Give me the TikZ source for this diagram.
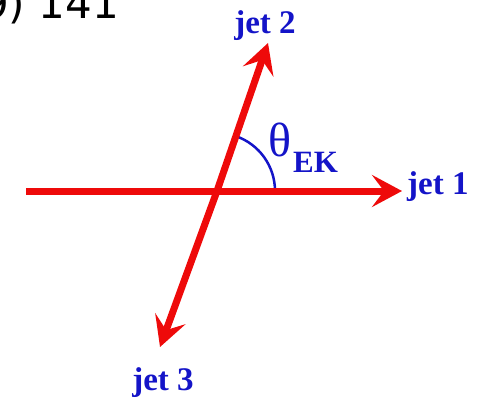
\documentclass[tikz,border=0pt]{standalone}
\usepackage{fontspec}
\setmainfont{Liberation Serif}
\newfontfamily\numfont{DejaVu Sans}
\usetikzlibrary{arrows.meta}
\definecolor{jetred}{RGB}{238,10,10}
\definecolor{lblue}{RGB}{20,20,200}
\tikzset{
  jet/.style={draw=jetred, line width=7pt,
    -{Stealth[length=30pt,width=32pt,inset=12pt]}},
  jetlabel/.style={text=lblue, font=\fontsize{33}{36}\selectfont\bfseries, inner sep=0pt},
  anglearc/.style={draw=lblue, line width=2.5pt}
}
\begin{document}
\begin{tikzpicture}[x=1pt,y=-1pt]
\useasboundingbox (0,0) rectangle (490,399);
\node[anchor=base east, inner sep=0pt, font=\numfont\fontsize{42}{44}\selectfont] (pg) at (119,18) {9) 141};
\coordinate (O) at (217,191);
\coordinate (s1) at (26,191);
\coordinate (t1) at (402,191);
\coordinate (t2) at (268,43);
\coordinate (t3) at (160,347);
\draw[anglearc] (O) ++(58,0) arc[start angle=0, end angle=-71, radius=58];
\draw[jet] (s1) -- (t1);
\draw[jet] (O) -- (t2);
\draw[jet] (O) -- (t3);
\node[jetlabel, anchor=base] (l2) at (265,33) {jet 2};
\node[jetlabel, anchor=base west] (l1) at (407,194) {jet 1};
\node[jetlabel, anchor=base] (l3) at (163,390) {jet 3};
\node[anchor=base west, inner sep=0pt, text=lblue, font=\fontsize{48}{50}\selectfont] (th) at (268,156) {θ};
\node[anchor=base west, inner sep=0pt, text=lblue, font=\fontsize{31}{34}\selectfont\bfseries] (ek) at (293,172) {EK};
\end{tikzpicture}
\end{document}
